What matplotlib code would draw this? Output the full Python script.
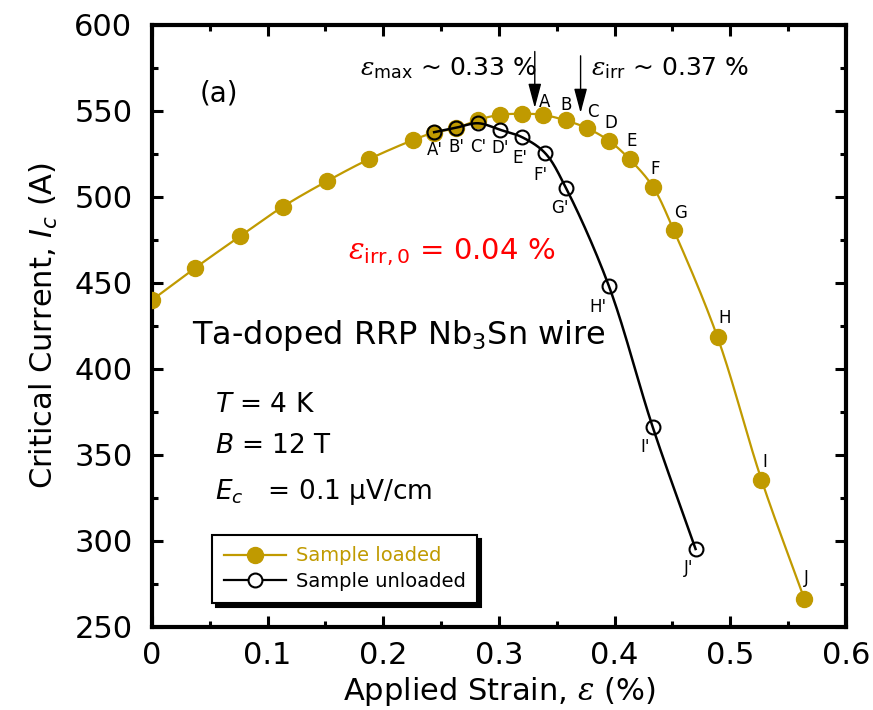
import numpy as np
import matplotlib
matplotlib.use("Agg")
import matplotlib.pyplot as plt

plt.rcParams['font.family'] = ['DejaVu Sans']
plt.rcParams['mathtext.fontset'] = 'custom'
plt.rcParams['mathtext.rm'] = 'DejaVu Sans'
plt.rcParams['mathtext.it'] = 'DejaVu Serif:italic'
plt.rcParams['mathtext.sf'] = 'DejaVu Sans:italic'

# data
strain_loaded = [0.0, 0.037, 0.076, 0.113, 0.151, 0.188, 0.226, 0.244, 0.263, 0.282,
                 0.301, 0.320, 0.338, 0.358, 0.376, 0.395, 0.413, 0.433, 0.451,
                 0.489, 0.527, 0.564]
ic_loaded = [440, 458.5, 477, 494.2, 509, 522, 533.1, 537.4, 539.9, 544.8,
             547.7, 548.3, 547.7, 544.4, 540.0, 532.7, 521.9, 506.0, 480.8,
             418.4, 335.5, 266.4]
labels_loaded = ["A", "B", "C", "D", "E", "F", "G", "H", "I", "J"]
label_pos_loaded = [(0.3398, 555.4), (0.3577, 553.5), (0.381, 549.2), (0.3968, 542.8),
                    (0.4147, 532.2), (0.4349, 516.1), (0.4573, 490.7), (0.4954, 429.7),
                    (0.530, 345.9), (0.566, 278.3)]

strain_unloaded = [0.244, 0.263, 0.282, 0.301, 0.320, 0.340, 0.358, 0.395, 0.433, 0.470]
ic_unloaded = [537.6, 540.2, 542.8, 539.0, 534.7, 525.4, 505.1, 448.3, 366.1, 295.3]
labels_unloaded = ["A'", "B'", "C'", "D'", "E'", "F'", "G'", "H'", "I'", "J'"]
label_pos_unloaded = [(0.2447, 527.3), (0.2634, 529.2), (0.2821, 529.2), (0.3009, 528.3),
                      (0.3181, 522.5), (0.336, 512.8), (0.3527, 493.4), (0.3859, 436.2),
                      (0.4262, 354.8), (0.4637, 284.1)]

gold = '#C09A00'


def smooth(x, y, n=30, sx=0.6 / 694, sy=350 / 602):
    # centripetal Catmull-Rom line through the measured points (drawing only)
    P = np.column_stack([np.asarray(x, float) / sx, np.asarray(y, float) / sy])
    P = np.vstack([2 * P[0] - P[1], P, 2 * P[-1] - P[-2]])
    out = []
    for i in range(1, len(P) - 2):
        p0, p1, p2, p3 = P[i - 1], P[i], P[i + 1], P[i + 2]
        t0 = 0.0
        t1 = t0 + np.linalg.norm(p1 - p0) ** 0.5
        t2 = t1 + np.linalg.norm(p2 - p1) ** 0.5
        t3 = t2 + np.linalg.norm(p3 - p2) ** 0.5
        t = np.linspace(t1, t2, n)[:, None]
        a1 = (t1 - t) / (t1 - t0) * p0 + (t - t0) / (t1 - t0) * p1
        a2 = (t2 - t) / (t2 - t1) * p1 + (t - t1) / (t2 - t1) * p2
        a3 = (t3 - t) / (t3 - t2) * p2 + (t - t2) / (t3 - t2) * p3
        b1 = (t2 - t) / (t2 - t0) * a1 + (t - t0) / (t2 - t0) * a2
        b2 = (t3 - t) / (t3 - t1) * a2 + (t - t1) / (t3 - t1) * a3
        out.append((t2 - t) / (t2 - t1) * b1 + (t - t1) / (t2 - t1) * b2)
    c = np.vstack(out)
    return c[:, 0] * sx, c[:, 1] * sy


fig = plt.figure(figsize=(8.73, 7.10), dpi=100)
ax = fig.add_axes([0.174, 0.117, 0.795, 0.848])

# loaded
lx, ly = smooth(strain_loaded, ic_loaded)
ax.plot(lx, ly, color=gold, lw=1.6, zorder=2)
ax.plot(strain_loaded, ic_loaded, 'o', color=gold, ms=11.5, mec=gold, zorder=3)
h1, = ax.plot([], [], '-o', color=gold, lw=1.6, ms=11.5, label='Sample loaded')

# unloaded
ux, uy = smooth(strain_unloaded, ic_unloaded)
ax.plot(ux, uy, color='black', lw=1.8, zorder=4)
ax.plot(strain_unloaded, ic_unloaded, 'o', mfc='none', mec='black', ms=10, mew=1.5, zorder=5)
h2, = ax.plot([], [], '-o', color='black', mfc='white', lw=1.6, ms=10, mew=1.5,
              label='Sample unloaded')

for lab, (x, y) in zip(labels_loaded, label_pos_loaded):
    ax.text(x, y, lab, fontsize=12, ha='center', va='center', zorder=6)
for lab, (x, y) in zip(labels_unloaded, label_pos_unloaded):
    ax.text(x, y, lab, fontsize=12, ha='center', va='center', zorder=6)

ax.set_xlim(0, 0.6)
ax.set_ylim(250, 600)
ax.set_xticks(np.arange(0, 0.61, 0.1))
ax.set_xticklabels(['0', '0.1', '0.2', '0.3', '0.4', '0.5', '0.6'])
ax.set_yticks(np.arange(250, 601, 50))
ax.set_xticks(np.arange(0.05, 0.6, 0.1), minor=True)
ax.set_yticks(np.arange(275, 600, 50), minor=True)
ax.tick_params(which='both', direction='in', top=True, right=True, width=2.2, labelsize=22)
ax.tick_params(which='major', length=8)
ax.tick_params(which='minor', length=4.5)
ax.tick_params(axis='y', pad=14)
ax.tick_params(axis='x', pad=10)
for s in ax.spines.values():
    s.set_linewidth(3)

ax.set_xlabel(r'Applied Strain, $\varepsilon$ (%)', fontsize=22, labelpad=4)
ax.set_ylabel(r'Critical Current, $\mathsf{I}_{\mathsf{c}}$ (A)', fontsize=22, labelpad=10)

ax.text(0.0415, 555.2, '(a)', fontsize=20, va='baseline')
ax.text(0.18, 570.9, r'$\varepsilon_{\mathrm{max}}$ ~ 0.33 %', fontsize=18, va='baseline')
ax.text(0.380, 570.9, r'$\varepsilon_{\mathrm{irr}}$ ~ 0.37 %', fontsize=18, va='baseline')
arrow_style = dict(arrowstyle='-|>,head_length=0.75,head_width=0.2', color='black',
                   lw=1.0, mutation_scale=20, shrinkA=0, shrinkB=0)
ax.annotate('', xy=(0.331, 551.7), xytext=(0.331, 584.5), arrowprops=arrow_style)
ax.annotate('', xy=(0.3706, 548.8), xytext=(0.3706, 582.0), arrowprops=arrow_style)

ax.text(0.1695, 463.8, r'$\varepsilon_{\mathrm{irr,0}}$ = 0.04 %', fontsize=21,
        color='#FF0000', va='baseline')

ax.text(0.0346, 414.5, r'Ta-doped RRP Nb$_3$Sn wire', fontsize=23, va='baseline')
ax.text(0.0545, 375.0, r'$\mathsf{T}$ = 4 K', fontsize=19, va='baseline')
ax.text(0.0545, 351.2, r'$\mathsf{B}$ = 12 T', fontsize=19, va='baseline')
ax.text(0.0545, 324.2, r'$\mathsf{E}_{\mathsf{c}}$   = 0.1 μV/cm', fontsize=19, va='baseline')

leg = ax.legend(handles=[h1, h2], loc='lower left', bbox_to_anchor=(0.0865, 0.04),
                borderaxespad=0, fontsize=14, handlelength=3.2, handletextpad=0.5,
                labelspacing=0.35, borderpad=0.6, fancybox=False, edgecolor='black',
                framealpha=1, labelcolor='linecolor',
                shadow={'ox': 3, 'oy': -3, 'shade': 1.0, 'alpha': 1})
leg.get_frame().set_linewidth(1.5)

fig.savefig('out.png', dpi=100)
